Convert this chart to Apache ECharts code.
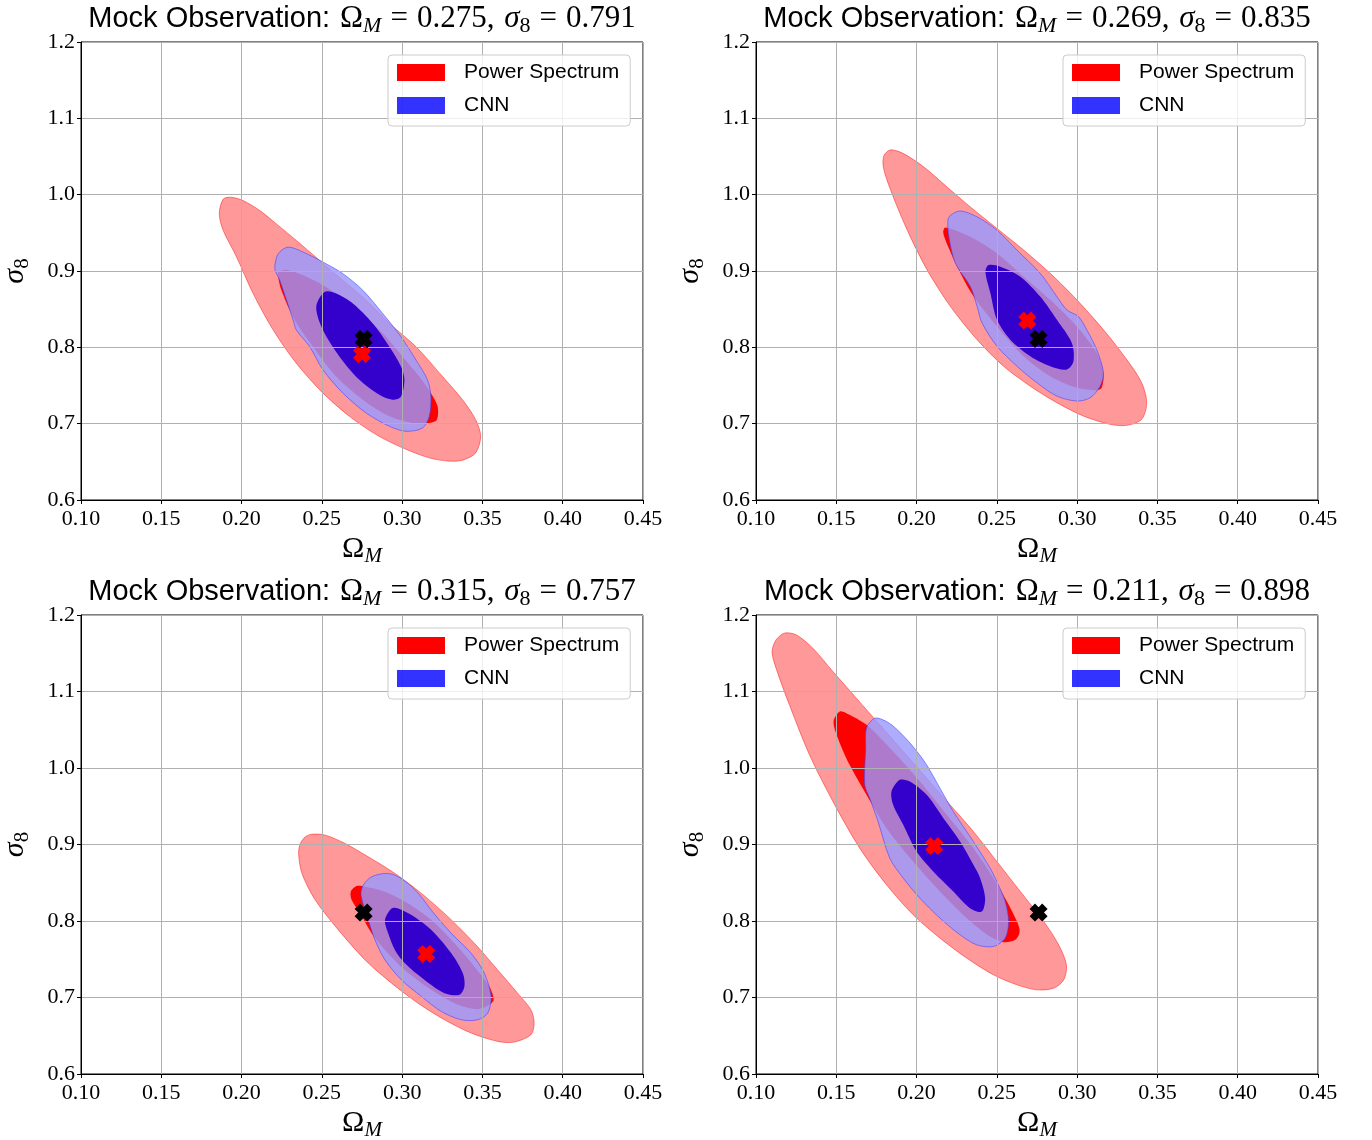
<!DOCTYPE html>
<html><head><meta charset="utf-8">
<script src="https://cdn.jsdelivr.net/npm/echarts@6/dist/echarts.min.js"></script>
<style>html,body{margin:0;padding:0;background:#fff}#c{width:1372px;height:1140px}</style>
</head><body><div id="c"></div>
<script>
// ---- data ----
const obsOmega = [0.275, 0.269, 0.315, 0.211];
const obsSigma8 = [0.791, 0.835, 0.757, 0.898];
const fiducial = [0.276, 0.811];
const xTickLabels = ['0.10','0.15','0.20','0.25','0.30','0.35','0.40','0.45'];
const yTickLabels = ['0.6','0.7','0.8','0.9','1.0','1.1','1.2'];
const seriesNames = ['Power Spectrum', 'CNN'];

// Panel 1 contours [Omega_M, sigma_8]
const psOuter1 = [[0.1886,0.9943],[0.1938,0.9965],[0.2010,0.9922],[0.2114,0.9791],[0.2217,0.9617],[0.2341,0.9400],[0.2486,0.9139],[0.2631,0.8878],[0.2776,0.8617],[0.2921,0.8313],[0.3086,0.8009],[0.3252,0.7617],[0.3376,0.7313],[0.3458,0.7052],[0.3489,0.6835],[0.3458,0.6617],[0.3376,0.6522],[0.3293,0.6509],[0.3169,0.6552],[0.3003,0.6683],[0.2838,0.6857],[0.2672,0.7096],[0.2507,0.7400],[0.2341,0.7791],[0.2197,0.8226],[0.2072,0.8704],[0.1969,0.9183],[0.1886,0.9530],[0.1861,0.9748]];
const psInner1 = [[0.2228,0.8987],[0.2279,0.9017],[0.2383,0.8943],[0.2507,0.8813],[0.2631,0.8639],[0.2755,0.8422],[0.2879,0.8183],[0.3003,0.7878],[0.3107,0.7617],[0.3179,0.7400],[0.3221,0.7226],[0.3216,0.7052],[0.3169,0.7009],[0.3065,0.7009],[0.2921,0.7096],[0.2755,0.7313],[0.2590,0.7617],[0.2445,0.8009],[0.2331,0.8357],[0.2248,0.8748],[0.2228,0.8922]];
const cnnOuter1 = [[0.2290,0.9313],[0.2383,0.9248],[0.2507,0.9117],[0.2631,0.8965],[0.2755,0.8748],[0.2879,0.8443],[0.2993,0.8139],[0.3086,0.7835],[0.3158,0.7574],[0.3179,0.7357],[0.3169,0.7096],[0.3127,0.6943],[0.3024,0.6900],[0.2921,0.6965],[0.2776,0.7139],[0.2631,0.7400],[0.2507,0.7704],[0.2424,0.8009],[0.2341,0.8226],[0.2321,0.8357],[0.2238,0.8878],[0.2207,0.9030],[0.2228,0.9226]];
const cnnInner1 = [[0.2517,0.8726],[0.2590,0.8704],[0.2693,0.8574],[0.2817,0.8313],[0.2921,0.8009],[0.2993,0.7748],[0.3014,0.7574],[0.2993,0.7357],[0.2941,0.7313],[0.2858,0.7378],[0.2734,0.7574],[0.2610,0.7878],[0.2507,0.8226],[0.2465,0.8530]];

// Panel 2
const psOuter2 = [[0.1839,1.0587],[0.1921,1.0535],[0.2046,1.0361],[0.2190,1.0100],[0.2335,0.9839],[0.2501,0.9557],[0.2667,0.9274],[0.2832,0.8970],[0.2998,0.8622],[0.3164,0.8230],[0.3309,0.7839],[0.3402,0.7535],[0.3433,0.7274],[0.3402,0.7057],[0.3309,0.6978],[0.3205,0.6991],[0.3039,0.7100],[0.2874,0.7274],[0.2708,0.7491],[0.2542,0.7752],[0.2377,0.8100],[0.2211,0.8535],[0.2066,0.9013],[0.1942,0.9535],[0.1839,1.0057],[0.1793,1.0361],[0.1797,1.0513]];
const psInner2 = [[0.2180,0.9570],[0.2335,0.9448],[0.2501,0.9230],[0.2667,0.8926],[0.2832,0.8622],[0.2998,0.8274],[0.3122,0.7926],[0.3164,0.7665],[0.3153,0.7470],[0.3122,0.7439],[0.2998,0.7470],[0.2832,0.7622],[0.2667,0.7883],[0.2501,0.8274],[0.2356,0.8665],[0.2253,0.9057],[0.2180,0.9404],[0.2166,0.9513]];
const cnnOuter2 = [[0.2273,0.9787],[0.2377,0.9709],[0.2501,0.9535],[0.2625,0.9274],[0.2770,0.8970],[0.2874,0.8665],[0.2936,0.8491],[0.3008,0.8404],[0.3060,0.8230],[0.3122,0.7970],[0.3164,0.7665],[0.3143,0.7491],[0.3081,0.7339],[0.2998,0.7296],[0.2874,0.7361],[0.2750,0.7535],[0.2625,0.7752],[0.2501,0.8013],[0.2408,0.8317],[0.2377,0.8535],[0.2335,0.8796],[0.2242,0.9100],[0.2201,0.9448],[0.2195,0.9665],[0.2211,0.9730]];
const cnnInner2 = [[0.2449,0.9078],[0.2522,0.9057],[0.2646,0.8926],[0.2770,0.8665],[0.2874,0.8361],[0.2967,0.8057],[0.2977,0.7817],[0.2936,0.7709],[0.2832,0.7752],[0.2708,0.7883],[0.2584,0.8100],[0.2501,0.8361],[0.2460,0.8709],[0.2429,0.8991]];

// Panel 3
const psOuter3 = [[0.2397,0.9100],[0.2438,0.9135],[0.2521,0.9122],[0.2645,0.9013],[0.2789,0.8839],[0.2955,0.8622],[0.3120,0.8361],[0.3285,0.8057],[0.3450,0.7709],[0.3595,0.7361],[0.3719,0.7057],[0.3802,0.6839],[0.3822,0.6665],[0.3802,0.6513],[0.3698,0.6417],[0.3595,0.6426],[0.3430,0.6535],[0.3264,0.6709],[0.3099,0.6926],[0.2934,0.7187],[0.2769,0.7491],[0.2603,0.7883],[0.2459,0.8274],[0.2376,0.8622],[0.2355,0.8883],[0.2366,0.9013]];
const psInner3 = [[0.2717,0.8457],[0.2769,0.8448],[0.2893,0.8383],[0.3037,0.8230],[0.3182,0.8013],[0.3326,0.7709],[0.3450,0.7404],[0.3543,0.7143],[0.3570,0.6970],[0.3543,0.6904],[0.3471,0.6848],[0.3347,0.6904],[0.3182,0.7100],[0.3017,0.7361],[0.2893,0.7622],[0.2810,0.7839],[0.2738,0.8100],[0.2686,0.8274],[0.2680,0.8383]];
const cnnOuter3 = [[0.2893,0.8622],[0.2955,0.8600],[0.3037,0.8491],[0.3110,0.8340],[0.3190,0.8120],[0.3306,0.7839],[0.3430,0.7578],[0.3512,0.7317],[0.3554,0.7013],[0.3533,0.6796],[0.3471,0.6709],[0.3368,0.6709],[0.3244,0.6817],[0.3120,0.7013],[0.2996,0.7230],[0.2893,0.7491],[0.2831,0.7752],[0.2789,0.8013],[0.2744,0.8339],[0.2758,0.8470],[0.2810,0.8578]];
const cnnInner3 = [[0.2934,0.8165],[0.2975,0.8165],[0.3058,0.8078],[0.3182,0.7883],[0.3306,0.7578],[0.3378,0.7317],[0.3388,0.7143],[0.3357,0.7035],[0.3264,0.7057],[0.3140,0.7230],[0.3017,0.7448],[0.2955,0.7622],[0.2913,0.7839],[0.2893,0.8013]];

// Panel 4
const psOuter4 = [[0.1125,1.1675],[0.1177,1.1763],[0.1250,1.1741],[0.1354,1.1566],[0.1479,1.1261],[0.1625,1.0913],[0.1771,1.0564],[0.1917,1.0216],[0.2063,0.9867],[0.2208,0.9519],[0.2354,0.9170],[0.2500,0.8778],[0.2646,0.8386],[0.2792,0.7993],[0.2885,0.7688],[0.2933,0.7427],[0.2917,0.7231],[0.2854,0.7122],[0.2750,0.7100],[0.2625,0.7166],[0.2479,0.7296],[0.2313,0.7514],[0.2146,0.7776],[0.1979,0.8081],[0.1813,0.8473],[0.1646,0.8952],[0.1479,0.9562],[0.1333,1.0172],[0.1208,1.0826],[0.1125,1.1305],[0.1100,1.1523]];
const psInner4 = [[0.1521,1.0739],[0.1563,1.0717],[0.1688,1.0564],[0.1854,1.0216],[0.2021,0.9824],[0.2188,0.9388],[0.2354,0.8952],[0.2479,0.8560],[0.2563,0.8255],[0.2625,0.7993],[0.2642,0.7863],[0.2615,0.7754],[0.2542,0.7723],[0.2458,0.7797],[0.2313,0.8037],[0.2146,0.8386],[0.1979,0.8778],[0.1813,0.9214],[0.1688,0.9649],[0.1583,1.0041],[0.1510,1.0390],[0.1483,1.0608]];
const cnnOuter4 = [[0.1740,1.0651],[0.1813,1.0608],[0.1880,1.0500],[0.1970,1.0300],[0.2060,1.0050],[0.2150,0.9720],[0.2229,0.9431],[0.2354,0.9039],[0.2458,0.8691],[0.2500,0.8516],[0.2552,0.8255],[0.2573,0.7993],[0.2552,0.7776],[0.2479,0.7667],[0.2375,0.7688],[0.2271,0.7819],[0.2146,0.8037],[0.2021,0.8298],[0.1917,0.8560],[0.1833,0.8821],[0.1760,0.9301],[0.1708,0.9606],[0.1677,0.9780],[0.1683,1.0259],[0.1688,1.0521]];
const cnnInner4 = [[0.1896,0.9845],[0.1958,0.9824],[0.2063,0.9649],[0.2167,0.9344],[0.2271,0.9039],[0.2354,0.8734],[0.2396,0.8560],[0.2427,0.8298],[0.2406,0.8124],[0.2333,0.8168],[0.2229,0.8386],[0.2104,0.8647],[0.2000,0.8908],[0.1917,0.9257],[0.1854,0.9519],[0.1844,0.9693]];

const panels = [
  {psOuter: psOuter1, psInner: psInner1, cnnOuter: cnnOuter1, cnnInner: cnnInner1},
  {psOuter: psOuter2, psInner: psInner2, cnnOuter: cnnOuter2, cnnInner: cnnInner2},
  {psOuter: psOuter3, psInner: psInner3, cnnOuter: cnnOuter3, cnnInner: cnnInner3},
  {psOuter: psOuter4, psInner: psInner4, cnnOuter: cnnOuter4, cnnInner: cnnInner4}
];

// ---- layout / style ----
const gridBoxes = [
  {left: 81, top: 42, width: 562, height: 458},
  {left: 756, top: 42, width: 562, height: 458},
  {left: 81, top: 615, width: 562, height: 459},
  {left: 756, top: 615, width: 562, height: 459}
];
const SERIF = "'Liberation Serif', 'DejaVu Serif', serif";
const SANS = "'Liberation Sans', 'DejaVu Sans', sans-serif";
const XMARK = 'path://M0,3 L3,0 L5,2 L7,0 L10,3 L8,5 L10,7 L7,10 L5,8 L3,10 L0,7 L2,5 Z';

const baseTok = {color: '#000', fontWeight: 'normal'};
const mathRich = {
  s: Object.assign({fontFamily: SANS, fontSize: 29, padding: [0, 10, 0, 0]}, baseTok),
  m: Object.assign({fontFamily: SERIF, fontSize: 31}, baseTok),
  eq: Object.assign({fontFamily: SERIF, fontSize: 31, padding: [0, 9, 0, 9]}, baseTok),
  mi: Object.assign({fontFamily: SERIF, fontSize: 31, fontStyle: 'italic', padding: [0, 0, 0, 2]}, baseTok),
  sub: Object.assign({fontFamily: SERIF, fontSize: 22, fontStyle: 'italic', padding: [15, 0, 0, 0]}, baseTok),
  subr: Object.assign({fontFamily: SERIF, fontSize: 22, padding: [15, 0, 0, 0]}, baseTok)
};
const axisRich = {
  m: Object.assign({fontFamily: SERIF, fontSize: 30}, baseTok),
  mi: Object.assign({fontFamily: SERIF, fontSize: 30, fontStyle: 'italic'}, baseTok),
  sub: Object.assign({fontFamily: SERIF, fontSize: 21, fontStyle: 'italic', padding: [15, 0, 0, 0]}, baseTok),
  subr: Object.assign({fontFamily: SERIF, fontSize: 21, padding: [15, 0, 0, 0]}, baseTok)
};

function polySeries(name, idx, pts, fill, stroke, z) {
  return {
    type: 'custom', name: name, xAxisIndex: idx, yAxisIndex: idx, z: z,
    data: pts, encode: {x: 0, y: 1}, silent: true, clip: true,
    renderItem: function (params, api) {
      if (params.dataIndex !== 0) return null;
      const points = pts.map(function (p) { return api.coord(p); });
      return {
        type: 'polygon',
        shape: {points: points, smooth: 0.3},
        style: {fill: fill, stroke: stroke || null, lineWidth: stroke ? 1 : 0}
      };
    }
  };
}

const grid = [], xAxis = [], yAxis = [], series = [], title = [], legend = [];
panels.forEach(function (p, i) {
  const g = gridBoxes[i];
  grid.push(Object.assign({show: true, borderColor: '#000', borderWidth: 1, backgroundColor: 'transparent',
    containLabel: false, outerBoundsMode: 'none'}, g));
  xAxis.push({
    type: 'value', gridIndex: i, min: 0.10, max: 0.45, interval: 0.05, z: 10,
    axisLine: {show: true, onZero: false, lineStyle: {color: '#000', width: 1}},
    axisTick: {show: true, length: 4, lineStyle: {color: '#000'}},
    axisLabel: {fontFamily: SERIF, fontSize: 22, color: '#000', margin: 8,
      formatter: function (v) { return xTickLabels[Math.round((v - 0.10) / 0.05)]; }},
    splitLine: {show: true, lineStyle: {color: '#b0b0b0', width: 1}},
    name: '{m|Ω}{sub|M}', nameLocation: 'middle', nameGap: 31,
    nameTextStyle: {rich: axisRich}
  });
  yAxis.push({
    type: 'value', gridIndex: i, min: 0.6, max: 1.2, interval: 0.1, z: 10,
    axisLine: {show: true, onZero: false, lineStyle: {color: '#000', width: 1}},
    axisTick: {show: true, length: 4, lineStyle: {color: '#000'}},
    axisLabel: {fontFamily: SERIF, fontSize: 22, color: '#000', margin: 6,
      formatter: function (v) { return yTickLabels[Math.round((v - 0.6) / 0.1)]; }},
    splitLine: {show: true, lineStyle: {color: '#b0b0b0', width: 1}},
    name: '{mi|σ}{subr|8}', nameLocation: 'middle', nameGap: 48, nameRotate: 90,
    nameTextStyle: {rich: axisRich}
  });
  series.push(polySeries(seriesNames[0], i, p.psOuter, 'rgba(255,0,0,0.4)', 'rgba(255,0,0,0.45)', 2));
  series.push(polySeries(seriesNames[0], i, p.psInner, '#ff0000', null, 3));
  series.push(polySeries(seriesNames[1], i, p.cnnOuter, 'rgba(153,153,255,0.8)', 'rgba(60,60,255,0.55)', 4));
  series.push(polySeries(seriesNames[1], i, p.cnnInner, '#3300cc', null, 5));
  series.push({type: 'scatter', xAxisIndex: i, yAxisIndex: i, z: 12, silent: true,
    symbol: XMARK, symbolSize: 18, itemStyle: {color: '#ff0000', opacity: 1},
    data: [[obsOmega[i], obsSigma8[i]]]});
  series.push({type: 'scatter', xAxisIndex: i, yAxisIndex: i, z: 12, silent: true,
    symbol: XMARK, symbolSize: 18, itemStyle: {color: '#000000', opacity: 1},
    data: [fiducial]});
  title.push({
    text: '{s|Mock Observation:}{m|Ω}{sub|M}{eq|=}{m|' + obsOmega[i].toFixed(3) + ', }{mi|σ}{subr|8}{eq|=}{m|' + obsSigma8[i].toFixed(3) + '}',
    left: g.left + g.width / 2, top: g.top - 42, textAlign: 'center', padding: 0,
    textStyle: {fontWeight: 'normal', rich: mathRich}
  });
  legend.push({
    show: true, orient: 'vertical', left: g.left + 307, top: g.top + 13, z: 20,
    itemWidth: 48, itemHeight: 17, itemGap: 12, padding: [7, 11, 10, 9],
    backgroundColor: 'rgba(255,255,255,0.8)', borderColor: '#cccccc', borderWidth: 1, borderRadius: 4,
    selectedMode: false,
    textStyle: {fontFamily: SANS, fontSize: 21, color: '#000', padding: [0, 0, 0, 14], lineHeight: 21},
    data: [
      {name: seriesNames[0], icon: 'rect', itemStyle: {color: '#ff0000', borderWidth: 0}},
      {name: seriesNames[1], icon: 'rect', itemStyle: {color: 'rgba(0,0,255,0.8)', borderWidth: 0}}
    ]
  });
});

const chart = echarts.init(document.getElementById('c'), null, {renderer: 'canvas'});
chart.setOption({
  backgroundColor: '#ffffff', animation: false,
  title: title, legend: legend, grid: grid, xAxis: xAxis, yAxis: yAxis, series: series
});
</script></body></html>
